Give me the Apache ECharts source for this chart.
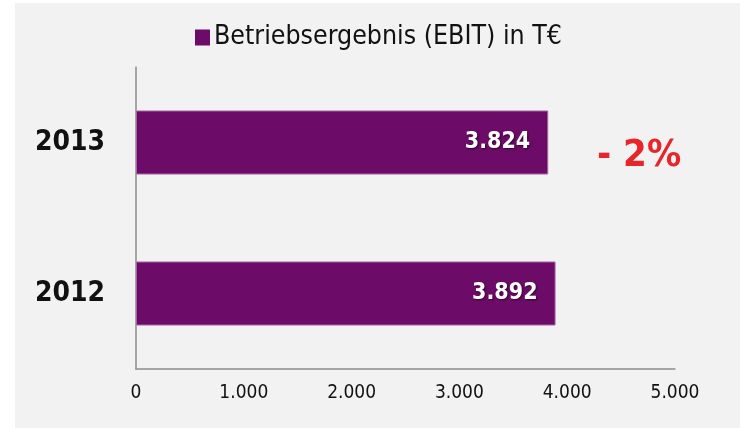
<!DOCTYPE html>
<html style="height: 100%">
<head>
<meta charset="UTF-8">
<title>EBIT</title>
<script src="https://cdn.jsdelivr.net/npm/echarts@6/dist/echarts.min.js"></script>
</head>
<body style="height:100%; margin: 0; background-color:#ffffff">
<div id="panel" style="position:absolute; left:15px; top:3px; right:0; bottom:0; background:#f2f2f2"></div>
<div id="main" style="position:absolute; left:0; top:0; width:740px; height:428px;"></div>
<script type="text/javascript">
var years = ['2012', '2013'];
var ebit = [3892, 3824];
var seriesName = 'Betriebsergebnis (EBIT) in T€';
var xTicks = [0, 1000, 2000, 3000, 4000, 5000];
var changeText = '- 2%';

var font = '"DejaVu Sans Condensed", "DejaVu Sans", sans-serif';
// Zahlen im deutschen Format: 3.892
function fmt(v) {
	return String(v).replace(/\B(?=(\d{3})+(?!\d))/g, '.');
}

var myChart = echarts.init(document.getElementById('main'));
var option = {
	backgroundColor: 'transparent',
	legend: {
		data: [seriesName],
		left: 195,
		top: 24,
		padding: 0,
		icon: 'rect',
		itemWidth: 15,
		itemHeight: 16,
		itemGap: 4,
		itemStyle: { borderWidth: 0 },
		textStyle: { fontFamily: font, fontSize: 26.5, color: '#111111', padding: [0, 0, 0, -1] }
	},
	grid: { left: 136, right: 65, top: 67, bottom: 59 },
	xAxis: {
		type: 'value',
		min: xTicks[0],
		max: xTicks[xTicks.length - 1],
		interval: xTicks[1] - xTicks[0],
		splitLine: { show: false },
		axisTick: { show: false },
		axisLine: { show: true, lineStyle: { color: '#8c8c8c', width: 1.5 } },
		axisLabel: {
			margin: 15,
			fontFamily: font, fontSize: 19, color: '#111111',
			formatter: function (v) { return fmt(v); }
		}
	},
	yAxis: {
		type: 'category',
		data: years,
		axisTick: { show: false },
		axisLine: { show: true, lineStyle: { color: '#8c8c8c', width: 1.5 } },
		axisLabel: { margin: 31, fontFamily: font, fontSize: 28, fontWeight: 'bold', color: '#111111' }
	},
	series: [{
		name: seriesName,
		type: 'bar',
		data: ebit,
		barWidth: 64,
		itemStyle: { color: '#6d0b68', borderColor: '#a564a2', borderWidth: 1 },
		label: {
			show: true,
			position: 'insideRight',
			distance: 18,
			fontFamily: font, fontSize: 23, fontWeight: 'bold', color: '#ffffff',
			textShadowColor: 'rgba(0,0,0,0.6)', textShadowBlur: 2,
			textShadowOffsetX: 1, textShadowOffsetY: 1,
			formatter: function (p) { return fmt(p.value); }
		}
	}],
	graphic: [{
		type: 'text',
		left: 597,
		top: 137,
		style: { text: changeText, fontFamily: font, fontSize: 38, fontWeight: 'bold', fill: '#e5262b' }
	}]
};
myChart.setOption(option);
</script>
</body>
</html>
